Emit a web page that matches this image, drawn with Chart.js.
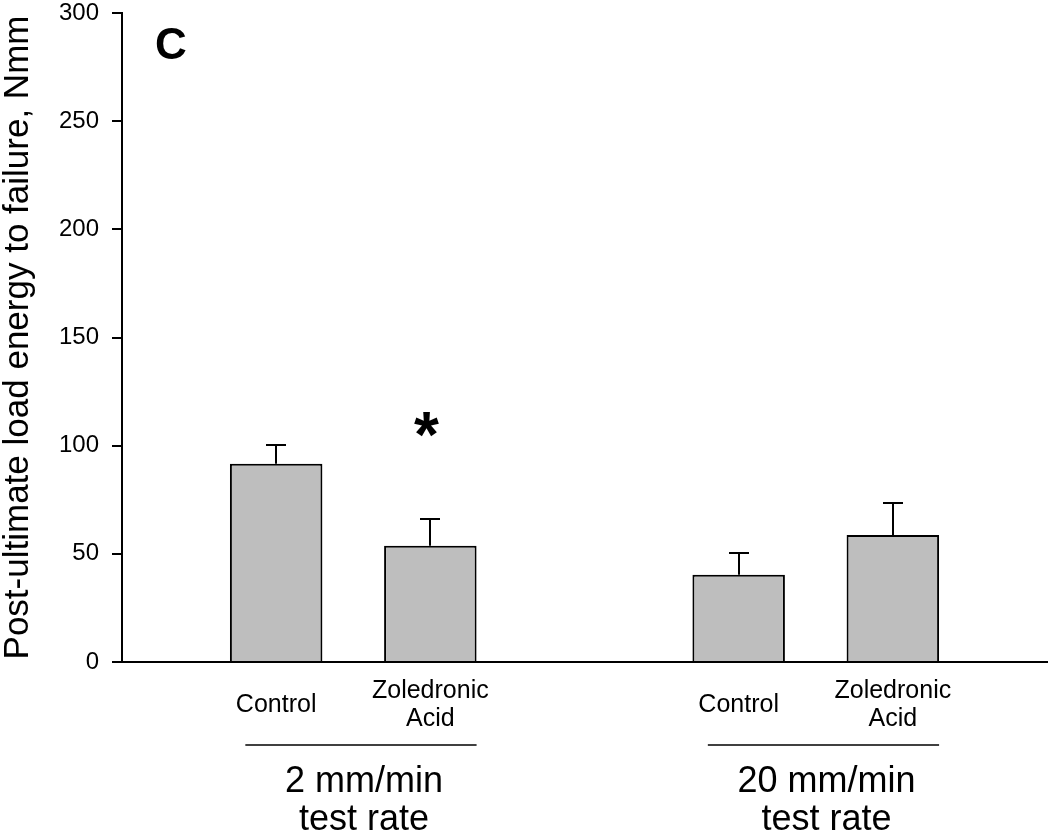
<!DOCTYPE html>
<html>
<head>
<meta charset="utf-8">
<script src="https://cdn.jsdelivr.net/npm/chart.js@4.4.1/dist/chart.umd.min.js"></script>
<style>
  html, body { margin: 0; padding: 0; background: #fff; }
  #wrap { width: 1050px; height: 832px; position: relative; }
</style>
</head>
<body>
<div id="wrap"><canvas id="grafico"></canvas></div>
<script>
// datos
const rateGroups = [['2 mm/min', 'test rate'], ['20 mm/min', 'test rate']];
const treatments = ['Control', ['Zoledronic', 'Acid']];
const means = [91.6, 53.7, 40.3, 58.7];
const sems = [8.7, 12.2, 10.1, 14.9];
const marks = ['', '*', '', ''];
const yTicks = [0, 50, 100, 150, 200, 250, 300];
const markLevel = 110; // nivel (en unidades del eje) del asterisco

Chart.defaults.font.family = "'Liberation Sans', Arial, Helvetica, sans-serif";
Chart.defaults.color = '#000';

// un hueco vacio a cada lado y entre los dos grupos
const labels = [''];
const values = [null];
rateGroups.forEach((g, gi) => {
    treatments.forEach((t, ti) => {
        labels.push(t);
        values.push(means[gi * treatments.length + ti]);
    });
    labels.push('');
    values.push(null);
});

// indice de la barra i dentro de labels
const slot = (i) => 1 + Math.floor(i / treatments.length) * (treatments.length + 1) + (i % treatments.length);

const errorBars = {
    id: 'errorBars',
    afterDatasetsDraw(chart) {
        const ctx = chart.ctx;
        const y = chart.scales.y;
        const meta = chart.getDatasetMeta(0);
        ctx.save();
        ctx.strokeStyle = '#000';
        ctx.lineWidth = 2;
        means.forEach((m, i) => {
            const bar = meta.data[slot(i)];
            const top = Math.round(y.getPixelForValue(m + sems[i]));
            const bx = Math.round(bar.x);
            ctx.beginPath();
            ctx.moveTo(bx, bar.y);
            ctx.lineTo(bx, top);
            ctx.moveTo(bx - 10, top);
            ctx.lineTo(bx + 10, top);
            ctx.stroke();

            if (marks[i]) {
                ctx.font = "bold 64px 'Liberation Sans', Arial, sans-serif";
                ctx.fillStyle = '#000';
                ctx.textAlign = 'center';
                ctx.textBaseline = 'alphabetic';
                const mm = ctx.measureText(marks[i]);
                const cy = y.getPixelForValue(markLevel);
                const base = cy + (mm.actualBoundingBoxAscent - mm.actualBoundingBoxDescent) / 2;
                ctx.fillText(marks[i], bar.x - 4, base);
            }
        });
        ctx.restore();
    }
};

const groupLabels = {
    id: 'groupLabels',
    afterDraw(chart) {
        const ctx = chart.ctx;
        const x = chart.scales.x;
        const area = chart.chartArea;
        ctx.save();
        ctx.strokeStyle = '#000';
        ctx.fillStyle = '#000';
        ctx.lineWidth = 1.5;
        rateGroups.forEach((g, gi) => {
            const a = x.getPixelForValue(slot(gi * treatments.length));
            const b = x.getPixelForValue(slot(gi * treatments.length + treatments.length - 1));
            const step = b - a;
            const l = a - 0.2 * step;
            const r = b + 0.3 * step;
            const ly = area.bottom + 83;
            ctx.beginPath();
            ctx.moveTo(l, ly);
            ctx.lineTo(r, ly);
            ctx.stroke();
            ctx.font = "36px 'Liberation Sans', Arial, sans-serif";
            ctx.textAlign = 'center';
            ctx.textBaseline = 'alphabetic';
            g.forEach((line, li) => {
                ctx.fillText(line, (l + r) / 2 + 3, area.bottom + 130 + li * 38);
            });
        });
        // letra del panel
        ctx.font = "bold 44px 'Liberation Sans', Arial, sans-serif";
        ctx.textAlign = 'left';
        ctx.fillText('C', area.left + 33, area.top + 46);
        ctx.restore();
    }
};

const data = {
    labels: labels,
    datasets: [{
        data: values,
        backgroundColor: 'rgb(190,190,190)',
        borderColor: '#000',
        borderWidth: 2,
        barPercentage: 0.6,
        categoryPercentage: 1.0
    }]
};

const config = {
    type: 'bar',
    data: data,
    options: {
        responsive: true,
        maintainAspectRatio: false,
        animation: false,
        layout: { padding: { top: 13, right: 3, bottom: 0, left: 0 } },
        plugins: {
            legend: { display: false },
            tooltip: { enabled: false }
        },
        scales: {
            x: {
                offset: false,
                border: { display: true, color: '#000', width: 2 },
                grid: { display: false, drawTicks: false },
                ticks: {
                    font: { size: 25, lineHeight: 1.12 },
                    color: '#000',
                    padding: 29,
                    maxRotation: 0,
                    autoSkip: false,
                    crossAlign: 'center'
                },
                afterFit: (s) => {
                    s.height = 170;
                    s.paddingLeft = 0;
                    s.paddingRight = 0;
                }
            },
            y: {
                min: 0,
                max: 300,
                afterBuildTicks: (s) => { s.ticks = yTicks.map(v => ({ value: v })); },
                border: { display: true, color: '#000', width: 2 },
                grid: { display: true, drawOnChartArea: false, drawTicks: true, tickLength: 10, color: '#000', lineWidth: 2 },
                ticks: { font: { size: 24 }, color: '#000', padding: 13 },
                title: {
                    display: true,
                    text: 'Post-ultimate load energy to failure, Nmm',
                    font: { size: 35, lineHeight: 1 },
                    color: '#000',
                    padding: { top: 1, bottom: 0 }
                },
                afterFit: (s) => {
                    s.width = 122;
                    s.paddingTop = 0;
                    s.paddingBottom = 0;
                }
            }
        }
    },
    plugins: [errorBars, groupLabels]
};

const chartInstance = new Chart(document.querySelector('#grafico'), config);
</script>
</body>
</html>
